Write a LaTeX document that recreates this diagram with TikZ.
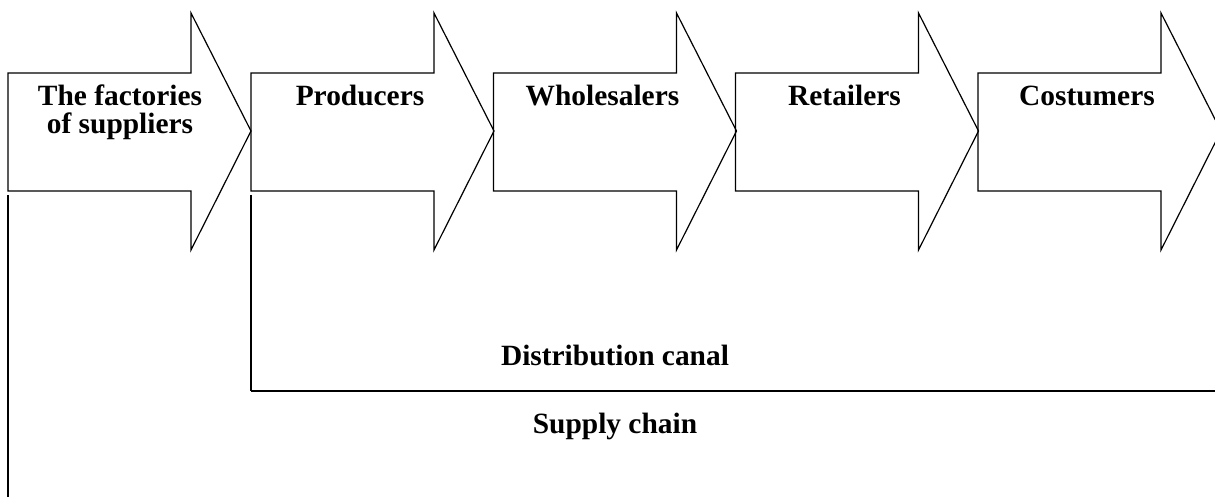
\documentclass[tikz,border=0pt]{standalone}
\usepackage{fontspec}
\setmainfont{Liberation Serif}
\usepackage{tikz}
\usetikzlibrary{positioning,calc}
\tikzset{
    chain arrow/.style={line width=0.6pt,line join=miter},
    chain label/.style={font=\fontsize{14.7}{14}\selectfont\bfseries,align=center,anchor=base,inner sep=0pt},
    bracket line/.style={line width=0.6pt},
}
\newcommand{\drawChainArrow}[4]{
    \draw[chain arrow] (#1,73) -- (#1+183,73) -- (#1+183,13) -- (#1+243,131)
        -- (#1+183,250) -- (#1+183,191) -- (#1,191) -- cycle;
    \node[chain label] (#2) at (#1+109+#4,106) {#3};
}

\begin{document}
\begin{tikzpicture}[x=0.5pt,y=-0.5pt]
                \useasboundingbox (0,0) rectangle (1215,497);
                \clip (0,0) rectangle (1215,497);

                \drawChainArrow{8}{factories}{The factories}{3}
                \drawChainArrow{251}{producers}{Producers}{0}
                \drawChainArrow{493.5}{wholesalers}{Wholesalers}{0}
                \drawChainArrow{735.5}{retailers}{Retailers}{0}
                \drawChainArrow{978}{costumers}{Costumers}{0}
                \node[chain label,below=14pt of factories.base,anchor=base] (suppliers) {of suppliers};

                \coordinate (supplyTop) at (8,195);
                \coordinate (supplyEnd) at (8,497);
                \coordinate (canalTop) at (251,195);
                \coordinate (canalCorner) at (251,391);
                \coordinate (canalEnd) at (1215,391);

                \draw[bracket line] (supplyTop) -- (supplyEnd);
                \draw[bracket line] (canalTop) -- (canalCorner);
                \draw[line width=1pt] (canalCorner) -- (canalEnd);

                \node[chain label] (canal) at (615,365) {Distribution canal};
                \node[chain label] (supply) at (615,433) {Supply chain};
            \end{tikzpicture}
\end{document}
